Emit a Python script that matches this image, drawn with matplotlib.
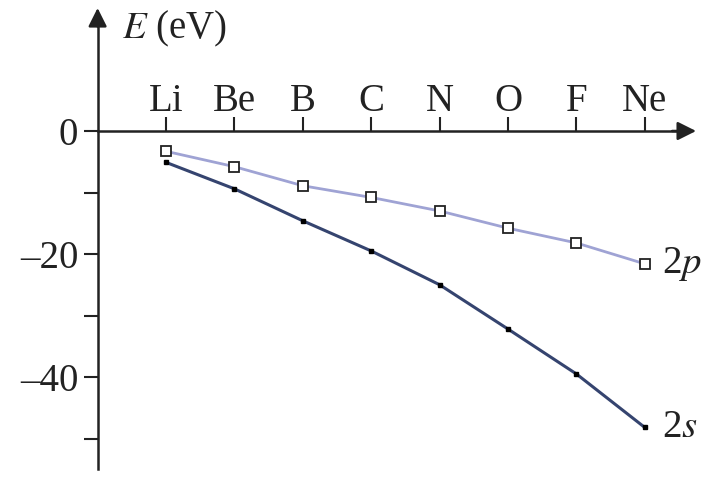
import matplotlib.pyplot as plt

plt.rcParams['font.family'] = ['Liberation Serif', 'DejaVu Serif']
plt.rcParams['mathtext.fontset'] = 'stix'

# elements along the period, and orbital energies in eV
elements = ['Li', 'Be', 'B', 'C', 'N', 'O', 'F', 'Ne']
e_2p = [-3.3, -5.8, -8.9, -10.8, -13.0, -15.8, -18.2, -21.6]
e_2s = [-5.1, -9.4, -14.6, -19.5, -25.0, -32.2, -39.5, -48.2]
y_major = [0, -20, -40]
y_minor = [-10, -30, -50]

xs = list(range(1, len(elements) + 1))
ink = '#222222'

fig = plt.figure(figsize=(7.04, 4.78), dpi=100)
ax = fig.add_axes([0, 0, 1, 1])
ax.set_xlim(-1.427, 8.866)
ax.set_ylim(-56.42, 21.3)
ax.patch.set_visible(False)

# axes crossing at the origin, x labels above the axis
ax.spines['right'].set_visible(False)
ax.spines['bottom'].set_visible(False)
ax.spines['left'].set_position(('data', 0))
ax.spines['top'].set_position(('data', 0))
ax.spines['left'].set_bounds(-55, 18)
ax.spines['top'].set_bounds(0, 8.5)
for s in ('left', 'top'):
    ax.spines[s].set_linewidth(1.8)
    ax.spines[s].set_color(ink)

ax.xaxis.set_ticks_position('top')
ax.set_xticks(xs)
ax.set_xticklabels(elements, fontsize=28, color=ink)
ax.tick_params(axis='x', direction='out', length=10, width=1.5, pad=-2, colors=ink)

ax.set_yticks(y_major)
ax.set_yticklabels(['0' if v == 0 else '\u2013' + str(-v) for v in y_major], fontsize=28, color=ink)
ax.set_yticks(y_minor, minor=True)
ax.tick_params(axis='y', which='both', direction='out', length=10, width=1.5, pad=4, colors=ink)

# arrowheads
arrow = dict(arrowstyle='-|>', lw=1.8, color=ink, mutation_scale=28, shrinkA=0, shrinkB=0)
ax.annotate('', xy=(0, 20.0), xytext=(0, 17), arrowprops=arrow, annotation_clip=False)
ax.annotate('', xy=(8.75, 0), xytext=(8.4, 0), arrowprops=arrow, annotation_clip=False)

ax.plot(xs, e_2p, color='#9fa3d4', lw=2, marker='s', markersize=7,
        markerfacecolor='white', markeredgecolor=ink, markeredgewidth=1.3, zorder=3)
ax.plot(xs, e_2s, color='#35446f', lw=2.2, marker='s', markersize=3.5,
        markerfacecolor='black', markeredgecolor='black', zorder=3)

ax.text(8.25, e_2p[-1], '2$p$', fontsize=28, va='center', ha='left', color=ink)
ax.text(8.25, e_2s[-1], '2$s$', fontsize=28, va='center', ha='left', color=ink)
ax.text(0.36, 16.6, '$E$ (eV)', fontsize=28, va='center', ha='left', color=ink)

fig.savefig('out.png', dpi=100)
